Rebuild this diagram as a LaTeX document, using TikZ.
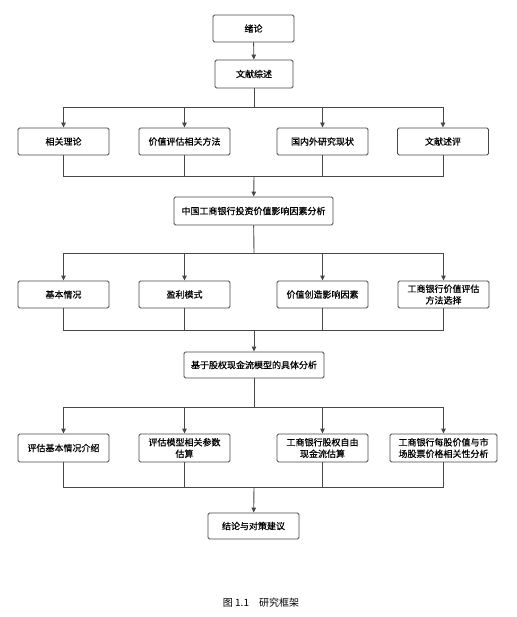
\documentclass[tikz,border=0pt]{standalone}
\usepackage{fontspec}
\setmainfont{Noto Sans CJK SC}
\newfontfamily\boxfont{Noto Sans CJK SC}[FakeBold=0.6]
\usetikzlibrary{arrows.meta}
\colorlet{edge}{black!72}

\begin{document}
\begin{tikzpicture}
[x=1pt, y=-1pt,
 box/.style={draw=edge, line width=0.9pt, rounded corners=1.5pt, fill=white, minimum width=91pt, minimum height=27pt, inner sep=1pt, align=center, font=\boxfont\fontsize{9}{11.5}\selectfont},
 ln/.style={draw=edge, line width=0.9pt},
 ->/.style={draw=edge, line width=0.9pt, arrows={-Triangle[length=5pt, width=4.5pt]}}]
\useasboundingbox (0,0) rectangle (516,617);
% top
\node[box, minimum width=81pt] (xl) at (253.5, 28.5) {绪论};
\node[box, minimum width=78pt, minimum height=28pt] (wx) at (254, 74) {文献综述};
\node[box] (t1) at (63.5, 141.5) {相关理论};
\node[box] (t2) at (184.5, 141.5) {价值评估相关方法};
\node[box] (t3) at (322.5, 141.5) {国内外研究现状};
\node[box] (t4) at (443, 141.5) {文献述评};
% middle
\node[box, minimum width=159pt, minimum height=28pt] (fx) at (253.5, 211) {中国工商银行投资价值影响因素分析};
\node[box] (u1) at (63.5, 294.5) {基本情况};
\node[box] (u2) at (184.5, 294.5) {盈利模式};
\node[box] (u3) at (322.5, 294.5) {价值创造影响因素};
\node[box] (u4) at (443.5, 294.5) {工商银行价值评估\\方法选择};
% lower
\node[box, minimum width=140pt, minimum height=26pt] (jy) at (254, 365) {基于股权现金流模型的具体分析};
\node[box, minimum height=28pt] (v1) at (63.5, 448) {评估基本情况介绍};
\node[box, minimum height=28pt] (v2) at (184.5, 448) {评估模型相关参数\\估算};
\node[box, minimum height=28pt] (v3) at (322.5, 448) {工商银行股权自由\\现金流估算};
\node[box, minimum width=107pt, minimum height=28pt] (v4) at (443.5, 448) {工商银行每股价值与市\\场股票价格相关性分析};
\node[box, minimum height=26pt] (jl) at (253.5, 526) {结论与对策建议};
\node[font=\fontsize{10}{12}\selectfont] (cap) at (261, 603) {图 1.1\quad 研究框架};
% junctions
\coordinate (b1) at (254, 107); \coordinate (m1) at (254, 176);
\coordinate (b2) at (254, 253); \coordinate (m2) at (254, 330);
\coordinate (b3) at (254, 407); \coordinate (m3) at (254, 487);
\draw[->] (xl) -- (wx);
\draw[ln] (wx) -- (b1);
\draw[->] (b1) -| (t1); \draw[->] (b1) -| (t2);
\draw[->] (b1) -| (t3); \draw[->] (b1) -| (t4);
\draw[ln] (t1) |- (m1); \draw[ln] (t2) |- (m1);
\draw[ln] (t3) |- (m1); \draw[ln] (t4) |- (m1);
\draw[->] (m1) -- (fx);
\draw[ln] (fx) -- (b2);
\draw[->] (b2) -| (u1); \draw[->] (b2) -| (u2);
\draw[->] (b2) -| (u3); \draw[->] (b2) -| (u4);
\draw[ln] (u1) |- (m2); \draw[ln] (u2) |- (m2);
\draw[ln] (u3) |- (m2); \draw[ln] (u4) |- (m2);
\draw[->] (m2) -- (jy);
\draw[ln] (jy) -- (b3);
\draw[->] (b3) -| (v1); \draw[->] (b3) -| (v2);
\draw[->] (b3) -| (v3); \draw[->] (b3) -| (v4);
\draw[ln] (v1) |- (m3); \draw[ln] (v2) |- (m3);
\draw[ln] (v3) |- (m3); \draw[ln] (v4) |- (m3);
\draw[->] (m3) -- (jl);
\end{tikzpicture}
\end{document}
